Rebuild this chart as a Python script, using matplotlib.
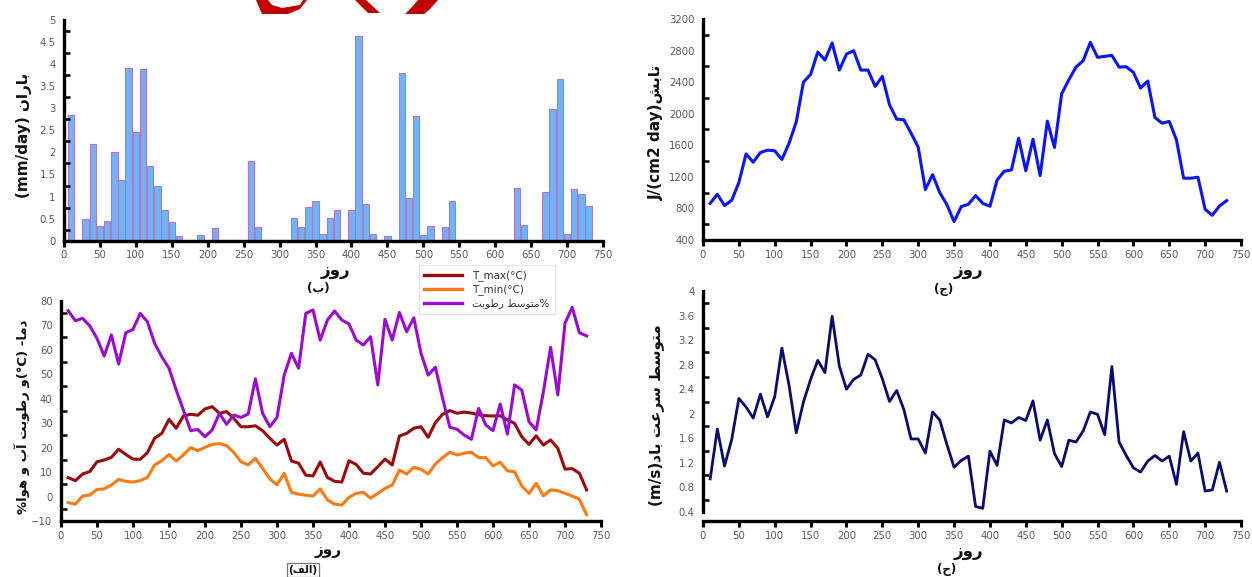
import numpy as np
import matplotlib
matplotlib.use("Agg")
import matplotlib.pyplot as plt
from matplotlib.ticker import MultipleLocator
from matplotlib.lines import Line2D
from matplotlib.patches import Polygon

plt.rcParams['font.family'] = ['DejaVu Sans']

# ---- data (sampled every 10 days) ----
days = np.arange(10, 731, 10)

rain = [2.85, 0.02, 0.49, 2.19, 0.33, 0.45, 2.01, 1.38, 3.91, 2.46,
        3.88, 1.69, 1.25, 0.69, 0.42, 0.11, 0.02, 0.02, 0.12, 0.02,
        0.28, 0.02, 0.02, 0.02, 0.02, 1.80, 0.31, 0.02, 0.02, 0.02,
        0.02, 0.51, 0.32, 0.77, 0.89, 0.16, 0.52, 0.70, 0.02, 0.70,
        4.64, 0.83, 0.16, 0.02, 0.10, 0.02, 3.80, 0.96, 2.83, 0.12,
        0.34, 0.02, 0.30, 0.90, 0.02, 0.02, 0.02, 0.02, 0.02, 0.02,
        0.02, 0.02, 1.20, 0.36, 0.02, 0.02, 1.10, 2.98, 3.67, 0.15,
        1.17, 1.06, 0.79]

radiation = [865, 980, 836, 903, 1128, 1491, 1386, 1508, 1538, 1530,
             1420, 1627, 1897, 2400, 2498, 2781, 2680, 2896, 2553, 2756,
             2798, 2553, 2553, 2346, 2473, 2113, 1931, 1923, 1754, 1576,
             1039, 1229, 1001, 848, 633, 823, 853, 963, 865, 827,
             1161, 1271, 1288, 1690, 1276, 1677, 1216, 1906, 1572, 2253,
             2430, 2591, 2672, 2904, 2714, 2727, 2739, 2591, 2595, 2524,
             2325, 2414, 1952, 1880, 1902, 1669, 1183, 1183, 1195, 789,
             713, 831, 899]

wind = [0.94, 1.75, 1.15, 1.58, 2.25, 2.11, 1.93, 2.32, 1.95, 2.28,
        3.07, 2.46, 1.69, 2.19, 2.56, 2.87, 2.67, 3.59, 2.78, 2.40,
        2.56, 2.63, 2.97, 2.88, 2.57, 2.20, 2.38, 2.07, 1.59, 1.59,
        1.36, 2.03, 1.90, 1.50, 1.13, 1.24, 1.31, 0.49, 0.46, 1.39,
        1.16, 1.90, 1.85, 1.94, 1.89, 2.21, 1.57, 1.90, 1.35, 1.14,
        1.57, 1.54, 1.72, 2.03, 1.99, 1.66, 2.77, 1.54, 1.32, 1.12,
        1.05, 1.23, 1.32, 1.23, 1.31, 0.85, 1.71, 1.23, 1.36, 0.74,
        0.76, 1.21, 0.74]

t_max = [7.7, 6.5, 9.2, 10.2, 14.2, 14.9, 16.0, 19.3, 17.2, 15.3,
         15.2, 17.9, 23.8, 25.8, 31.5, 27.9, 32.9, 33.6, 33.2, 35.8,
         36.7, 34.0, 34.7, 31.9, 28.5, 28.5, 28.9, 26.9, 23.8, 21.0,
         23.4, 14.5, 13.6, 8.7, 8.4, 14.1, 7.8, 6.2, 5.9, 14.6,
         13.1, 9.5, 9.2, 12.2, 15.3, 12.9, 24.7, 25.8, 27.9, 28.5,
         24.2, 30.2, 33.6, 35.1, 34.0, 34.5, 34.1, 33.4, 33.0, 32.9,
         33.0, 31.3, 29.9, 24.4, 21.3, 24.8, 21.0, 23.1, 19.7, 11.2,
         11.4, 9.5, 2.7]

t_min = [-2.5, -3.1, 0.2, 0.6, 2.9, 3.1, 4.7, 7.0, 6.2, 5.9,
         6.5, 7.8, 12.9, 14.6, 17.2, 14.5, 17.0, 20.0, 18.7, 20.1,
         21.3, 21.6, 20.8, 18.0, 14.2, 12.9, 15.6, 11.5, 7.2, 4.8,
         9.5, 1.7, 1.0, 0.5, 0.2, 3.1, -1.4, -3.1, -3.5, -0.3,
         1.3, 1.7, -0.7, 1.3, 3.3, 4.7, 10.8, 9.2, 11.9, 11.1,
         9.2, 13.3, 15.9, 18.1, 17.0, 17.7, 18.1, 15.9, 15.9, 12.5,
         14.0, 10.5, 10.1, 4.3, 1.3, 5.4, 0.3, 2.7, 2.4, 1.3,
         0.2, -1.1, -7.5]

humidity = [75.9, 71.8, 72.8, 69.7, 64.6, 57.4, 66.0, 54.1, 66.9, 68.3,
            74.8, 71.4, 62.6, 57.1, 52.4, 43.5, 35.3, 26.9, 27.4, 24.4,
            27.2, 34.0, 29.5, 33.3, 32.3, 33.7, 48.1, 34.0, 28.5, 32.3,
            49.6, 58.5, 52.4, 74.8, 76.2, 63.9, 72.1, 75.8, 72.1, 70.5,
            63.9, 61.9, 65.3, 45.6, 72.4, 63.9, 75.2, 67.3, 73.0, 58.5,
            49.6, 52.8, 40.1, 28.3, 27.5, 25.1, 23.4, 36.0, 29.2, 26.9,
            37.8, 25.5, 45.6, 43.5, 30.6, 27.2, 42.8, 61.0, 41.5, 70.8,
            77.3, 66.9, 65.6]

# ---- minimal Persian shaping (matplotlib has no RTL/shaping support) ----
FORMS = {
    'ا': (0xFE8D, 0xFE8E, None, None), 'آ': (0xFE81, 0xFE82, None, None),
    'ب': (0xFE8F, 0xFE90, 0xFE91, 0xFE92), 'ت': (0xFE95, 0xFE96, 0xFE97, 0xFE98),
    'ج': (0xFE9D, 0xFE9E, 0xFE9F, 0xFEA0), 'ح': (0xFEA1, 0xFEA2, 0xFEA3, 0xFEA4),
    'د': (0xFEA9, 0xFEAA, None, None), 'ر': (0xFEAD, 0xFEAE, None, None),
    'ز': (0xFEAF, 0xFEB0, None, None), 'س': (0xFEB1, 0xFEB2, 0xFEB3, 0xFEB4),
    'ش': (0xFEB5, 0xFEB6, 0xFEB7, 0xFEB8), 'ط': (0xFEC1, 0xFEC2, 0xFEC3, 0xFEC4),
    'ع': (0xFEC9, 0xFECA, 0xFECB, 0xFECC), 'ف': (0xFED1, 0xFED2, 0xFED3, 0xFED4),
    'ل': (0xFEDD, 0xFEDE, 0xFEDF, 0xFEE0), 'م': (0xFEE1, 0xFEE2, 0xFEE3, 0xFEE4),
    'ن': (0xFEE5, 0xFEE6, 0xFEE7, 0xFEE8), 'ه': (0xFEE9, 0xFEEA, 0xFEEB, 0xFEEC),
    'و': (0xFEED, 0xFEEE, None, None),
}


def ar(text):
    out = []
    for i, ch in enumerate(text):
        if ch not in FORMS:
            out.append(ch)
            continue
        f = FORMS[ch]
        prev = text[i - 1] if i > 0 else ''
        nxt = text[i + 1] if i + 1 < len(text) else ''
        jp = prev in FORMS and FORMS[prev][2] is not None
        jn = nxt in FORMS and f[2] is not None
        if jp and jn:
            c = f[3]
        elif jp:
            c = f[1]
        elif jn:
            c = f[2]
        else:
            c = f[0]
        out.append(chr(c))
    return ''.join(reversed(out))


W, H = 1252, 577
fig = plt.figure(figsize=(W / 100, H / 100), dpi=100)


def px_axes(x0, x1, y0, y1):
    return fig.add_axes([x0 / W, 1 - y1 / H, (x1 - x0) / W, (y1 - y0) / H])


def style(ax, ymin, ymax, ystep):
    ax.set_xlim(0, 750)
    ax.set_ylim(ymin, ymax)
    for s in ['top', 'right']:
        ax.spines[s].set_visible(False)
    for s in ['left', 'bottom']:
        ax.spines[s].set_linewidth(2.4)
    ax.xaxis.set_major_locator(MultipleLocator(50))
    ax.yaxis.set_major_locator(MultipleLocator(ystep))
    ax.yaxis.set_minor_locator(MultipleLocator(ystep / 2))
    ax.tick_params(axis='x', direction='out', length=4, width=2.2,
                   labelsize=7.3, labelcolor='#5a5a5a', pad=3)
    ax.tick_params(axis='y', which='major', direction='in', length=0,
                   labelsize=7.3, labelcolor='#5a5a5a', pad=6)
    ax.tick_params(axis='y', which='minor', direction='in', length=4, width=1.8)


label_kw = dict(fontsize=11, fontweight='bold', color='#111111')
xlab_kw = dict(fontsize=12, fontweight='bold', color='#111111', ha='center', va='center')
cap_kw = dict(fontsize=8.5, fontweight='bold', color='#111111', ha='center', va='center')

# (ب) rainfall
ax1 = px_axes(64, 603, 20, 240.7)
ax1.bar(days, rain, width=9, color='#70b2ff', edgecolor='#b27ab8', linewidth=0.8)
style(ax1, 0, 5, 0.5)
ax1.set_yticks(np.arange(0, 5.01, 0.5))
ax1.set_yticklabels(['0', '0.5', '1', '1.5', '2', '2.5', '3', '3.5', '4', '4.5', '5'])
fig.text(24 / W, 1 - 135 / H, '(mm/day) ' + ar('باران'), rotation=90,
         ha='center', va='center', **label_kw)
fig.text(335 / W, 1 - 270 / H, ar('روز'), **xlab_kw)
fig.text(318 / W, 1 - 288 / H, '(' + ar('ب') + ')', **cap_kw)

# (ج) radiation
ax2 = px_axes(703, 1241, 19, 240)
ax2.plot(days, radiation, color='#0a14ff', lw=2.2)
style(ax2, 400, 3200, 400)
fig.text(656 / W, 1 - 132 / H, 'J/(cm2 day)' + ar('تابش'), rotation=90,
         ha='center', va='center', **label_kw)
fig.text(968 / W, 1 - 270 / H, ar('روز'), **xlab_kw)
fig.text(944 / W, 1 - 290 / H, '(' + ar('ج') + ')', **cap_kw)

# (الف) temperature / humidity
ax3 = px_axes(61, 601, 300.7, 521)
ax3.plot(days, t_max, color='#9b0a0a', lw=2.2)
ax3.plot(days, t_min, color='#ff7a12', lw=2.2)
ax3.plot(days, humidity, color='#9a0ad2', lw=2.2)
style(ax3, -10, 80, 10)
fig.text(22 / W, 1 - 417 / H, '%' + ar('و رطوبت آب و هوا') + '(°C) -' + ar('دما'),
         rotation=90, ha='center', va='center', fontsize=9.5, fontweight='bold',
         color='#111111')
fig.text(328 / W, 1 - 550 / H, ar('روز'), fontsize=11, fontweight='bold',
         color='#111111', ha='center', va='center')
fig.text(303 / W, 1 - 570 / H, '(' + ar('الف') + ')',
         bbox=dict(boxstyle='square,pad=0.15', fc='white', ec='#777777', lw=0.9),
         fontsize=7.5, fontweight='bold', color='#111111', ha='center', va='center')

handles = [Line2D([], [], color='#9b0a0a', lw=2.4),
           Line2D([], [], color='#ff7a12', lw=2.4),
           Line2D([], [], color='#9a0ad2', lw=2.4)]
labels = ['T_max(°C)', 'T_min(°C)', ar('متوسط رطوبت') + '%']
leg = fig.legend(handles, labels, loc='center', bbox_to_anchor=(487 / W, 1 - 289.5 / H),
                 fontsize=7.5, frameon=True, fancybox=False, edgecolor='#dddddd',
                 handlelength=3.6, labelspacing=0.3, borderpad=0.5, handletextpad=1.0)
leg.get_frame().set_linewidth(0.8)
for t in leg.get_texts():
    t.set_color('#333333')

# (ح) wind speed
ax4 = px_axes(703, 1241, 291, 521)
ax4.plot(days, wind, color='#0b0b6e', lw=2.0)
style(ax4, 0.4, 4.0, 0.4)
ax4.set_ylim(0.4 - 9 / 61.4, 4.0)
ax4.spines['left'].set_bounds(0.4, 4.0)
ax4.set_yticks(np.arange(0.4, 4.01, 0.4))
ax4.set_yticklabels(['0.4', '0.8', '1.2', '1.6', '2', '2.4', '2.8', '3.2', '3.6', '4'])
fig.text(656 / W, 1 - 415 / H, '(m/s)' + ar('متوسط سرعت باد'), rotation=90,
         ha='center', va='center', **label_kw)
fig.text(968 / W, 1 - 551 / H, ar('روز'), **xlab_kw)
fig.text(947 / W, 1 - 570 / H, '(' + ar('ح') + ')', **cap_kw)

# cropped red logo at the top edge
logo = fig.add_axes([0, 0, 1, 1], zorder=-1)
logo.set_xlim(0, W)
logo.set_ylim(H, 0)
logo.axis('off')
shapes = [
    [(256, 0), (268, 0), (272, 5), (282, 8), (300, 5), (303, 0), (307, 0),
     (300, 9), (288, 14), (262, 14)],
    [(355, 0), (366, 0), (380, 13), (368, 13)],
    [(418, 0), (438, 0), (430, 9), (424, 14), (405, 14), (412, 7)],
]
for pts in shapes:
    logo.add_patch(Polygon(pts, closed=True, color='#c00000', lw=0))

fig.savefig('out.png', dpi=100)
